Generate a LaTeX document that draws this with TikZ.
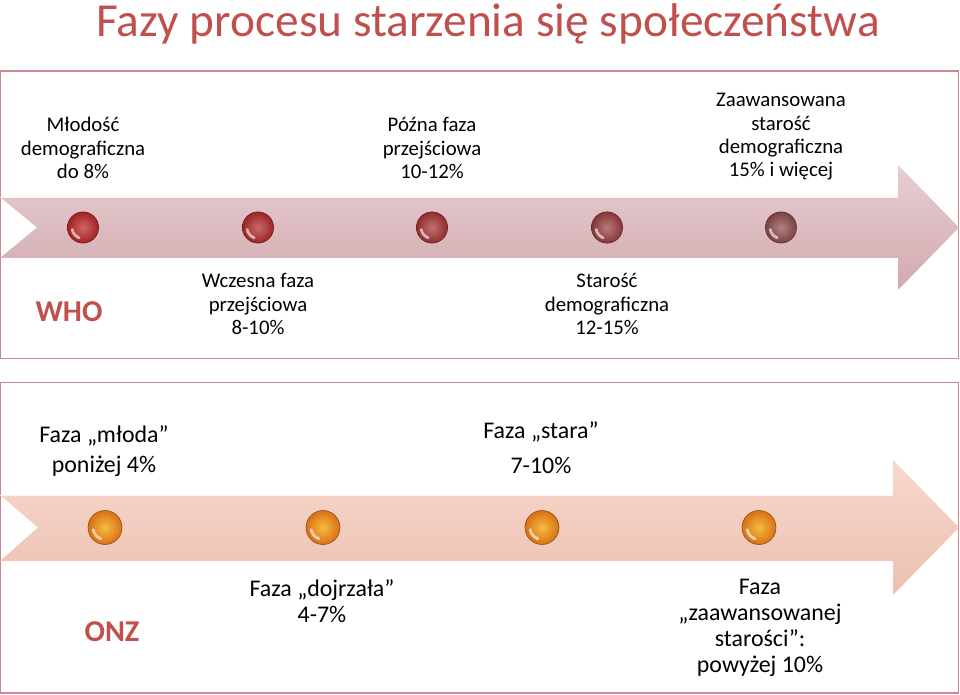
\documentclass[tikz,border=0pt]{standalone}
\usepackage{fontspec}
\setmainfont{Carlito}
\usepackage{xcolor}
\usetikzlibrary{positioning}
\definecolor{accred}{RGB}{192,80,77}
\definecolor{framec}{RGB}{205,135,142}
\definecolor{roseL}{RGB}{232,206,209}
\definecolor{roseD}{RGB}{208,170,175}
\definecolor{peachL}{RGB}{247,216,203}
\definecolor{peachD}{RGB}{236,192,177}
\definecolor{wr1}{RGB}{190,38,38}
\definecolor{wr2}{RGB}{180,44,44}
\definecolor{wr3}{RGB}{168,52,52}
\definecolor{wr4}{RGB}{155,64,64}
\definecolor{wr5}{RGB}{145,76,76}
\definecolor{orng}{RGB}{240,125,25}

\begin{document}
\begin{tikzpicture}[x=0.025cm,y=-0.025cm,
  panel/.style={draw=framec,line width=1.1pt},
  band/.style={line width=0pt},
  phase/.style={align=center,font=\fontsize{14.8}{16.6}\selectfont},
  stage/.style={align=center,font=\fontsize{17}{18.6}\selectfont},
  org/.style={font=\fontsize{21.5}{24}\selectfont\bfseries,text=accred},
  wdot/.style={circle,minimum size=0.78cm,inner sep=0pt,draw=#1!60!black,
    inner color=#1!70!white,outer color=#1!85!black},
  odot/.style={circle,minimum size=0.85cm,inner sep=0pt,draw=orng!60!black,
    inner color=orng!65!yellow!80!white,outer color=orng!90!black},
  shine/.style={white,line width=2pt,opacity=0.6,line cap=round}]
\useasboundingbox (0,0) rectangle (960,695);
% title
\node[font=\fontsize{33.7}{40}\selectfont,text=accred] (title) at (488,24)
  {Fazy procesu starzenia się społeczeństwa};
% two panels
\draw[panel] (0.5,71) rectangle (958.5,358.5);
\draw[panel] (0.5,382.5) rectangle (958.5,693);
% WHO arrow
\shade[band,top color=roseL,bottom color=roseD]
  (0,197) -- (898,197) -- (898,165) -- (959,227.5) -- (898,290)
  -- (898,258) -- (0,258) -- (37,227.5) -- cycle;
\draw[white,line width=1pt,opacity=0.8] (0,197.5) -- (898,197.5);
% ONZ arrow
\shade[band,top color=peachL,bottom color=peachD]
  (0,495) -- (893,495) -- (893,460) -- (959,527.5) -- (893,595)
  -- (893,561) -- (0,561) -- (38,527.5) -- cycle;
\draw[white,line width=1pt,opacity=0.8] (0,495.5) -- (893,495.5);
% dots
\foreach \i/\x in {1/83,2/258,3/432,4/607,5/781}{
  \node[wdot=wr\i] (w\i) at (\x,227.5) {};
  \draw[shine] (w\i.center) ++(110:11) arc[start angle=110,end angle=170,radius=11];
}
\foreach \i/\x in {1/105,2/323,3/542,4/759}{
  \node[odot] (u\i) at (\x,527.5) {};
  \draw[shine] (u\i.center) ++(110:12) arc[start angle=110,end angle=170,radius=12];
}
% WHO labels
\node[phase] (mlodosc) at (83,148) {Młodość\\demograficzna\\do 8\%};
\node[phase] (pozna) at (432,148) {Późna faza\\przejściowa\\10-12\%};
\node[phase] (zaaw) at (781,137) {Zaawansowana\\starość\\demograficzna\\15\% i więcej};
\node[phase] (wczesna) at (258,304) {Wczesna faza\\przejściowa\\8-10\%};
\node[phase] (starosc) at (607,304) {Starość\\demograficzna\\12-15\%};
\node[org] (who) at (69,312) {WHO};
% ONZ labels
\node[stage,font=\fontsize{17}{21.3}\selectfont] (mloda) at (104,451) {Faza „młoda”\\poniżej 4\%};
\node[stage,font=\fontsize{17}{24.9}\selectfont] (stara) at (541,448) {Faza „stara”\\7-10\%};
\node[stage] (dojrzala) at (322,601) {Faza „dojrzała”\\4-7\%};
\node[stage] (zaawans) at (760,628) {Faza\\„zaawansowanej\\starości”:\\powyżej 10\%};
\node[org] (onz) at (112,632) {ONZ};
\end{tikzpicture}
\end{document}
